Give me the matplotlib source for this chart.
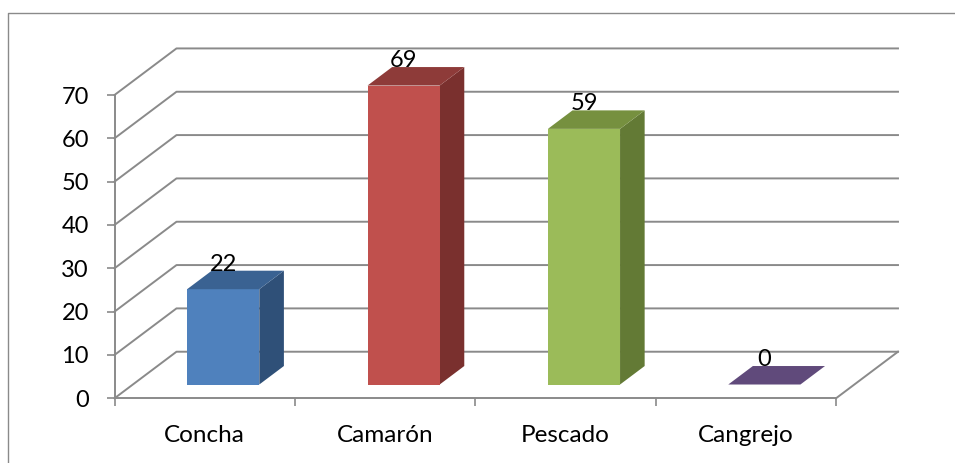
import matplotlib
matplotlib.use('Agg')
import matplotlib.pyplot as plt
from matplotlib.lines import Line2D
from matplotlib.patches import Polygon

plt.rcParams['font.family'] = ['Lato', 'DejaVu Sans']

categories = ['Concha', 'Camarón', 'Pescado', 'Cangrejo']
values = [22, 69, 59, 0]
y_ticks = [0, 10, 20, 30, 40, 50, 60, 70]

# colores: frente, lado, arriba
front_colors = ['#4F81BD', '#C0504D', '#9BBB59', '#8064A2']
side_colors = ['#2F5078', '#7A302E', '#637A35', '#4E3B66']
top_colors = ['#3A6292', '#8E3B39', '#76903F', '#604A7B']

W, H = 955, 463
LINE = '#8A8A8A'

fig = plt.figure(figsize=(W / 100, H / 100), dpi=100)
ax = fig.add_axes([114.5 / W, (H - 398.3) / H, (836 - 114.5) / W, (398.3 - 95) / H])
ax.set_xlim(0, len(categories))
ax.set_ylim(0, 70)
ax.patch.set_visible(False)

# desplazamiento de la pared del fondo, en unidades de datos
DEPTH_X = 62 / 180.4
DEPTH_Y = 10.75


def proj(x, v, d):
    # d = 0 frente, d = 1 fondo
    return (x + d * DEPTH_X, v + d * DEPTH_Y)


# rejilla sobre la pared lateral y el fondo
for v in y_ticks:
    pts = [proj(0, v, 0), proj(0, v, 1), proj(len(categories), v, 1)]
    ax.plot(*zip(*pts), color=LINE, lw=1.4, clip_on=False, zorder=1)
# borde derecho del suelo
ax.plot(*zip(proj(len(categories), 0, 0), proj(len(categories), 0, 1)),
        color=LINE, lw=1.4, clip_on=False, zorder=1)

# barras
GAP = 0.301
BAR_W = 0.400
D0, D1 = 0.296, 0.693
for i, v in enumerate(values):
    x0 = i + GAP
    x1 = x0 + BAR_W
    front = [proj(x0, 0, D0), proj(x1, 0, D0), proj(x1, v, D0), proj(x0, v, D0)]
    side = [proj(x1, 0, D0), proj(x1, 0, D1), proj(x1, v, D1), proj(x1, v, D0)]
    top = [proj(x0, v, D0), proj(x1, v, D0), proj(x1, v, D1), proj(x0, v, D1)]
    ax.add_patch(Polygon(side, color=side_colors[i], lw=0, clip_on=False, zorder=3))
    ax.add_patch(Polygon(front, color=front_colors[i], lw=0, clip_on=False, zorder=3))
    ax.add_patch(Polygon(top, color=top_colors[i], lw=0, clip_on=False, zorder=4))
    ax.annotate(str(v), proj(x0 + BAR_W / 2, v, D0), xytext=(0, 18),
                textcoords='offset points', ha='center', va='center',
                fontsize=17, color='black', annotation_clip=False, zorder=5)

# ejes
for s in ['top', 'right']:
    ax.spines[s].set_visible(False)
for s in ['left', 'bottom']:
    ax.spines[s].set_color(LINE)
    ax.spines[s].set_linewidth(1.4)
ax.set_yticks(y_ticks)
ax.set_xticks(range(len(categories) + 1))
ax.set_xticklabels([])
ax.set_xticks([i + 0.5 for i in range(len(categories))], labels=categories, minor=True)
ax.tick_params(axis='y', length=6, width=1.2, color=LINE, pad=12.5, labelsize=17)
ax.tick_params(axis='x', which='major', length=6, width=1.2, color=LINE)
ax.tick_params(axis='x', which='minor', length=0, pad=19.5, labelsize=17.5)

# marco exterior
fig.add_artist(Line2D([7.5 / W, 7.5 / W, 1], [0, (H - 12.5) / H, (H - 12.5) / H],
                      color=LINE, lw=1.0))

fig.savefig('out.png', dpi=100, facecolor='white')
